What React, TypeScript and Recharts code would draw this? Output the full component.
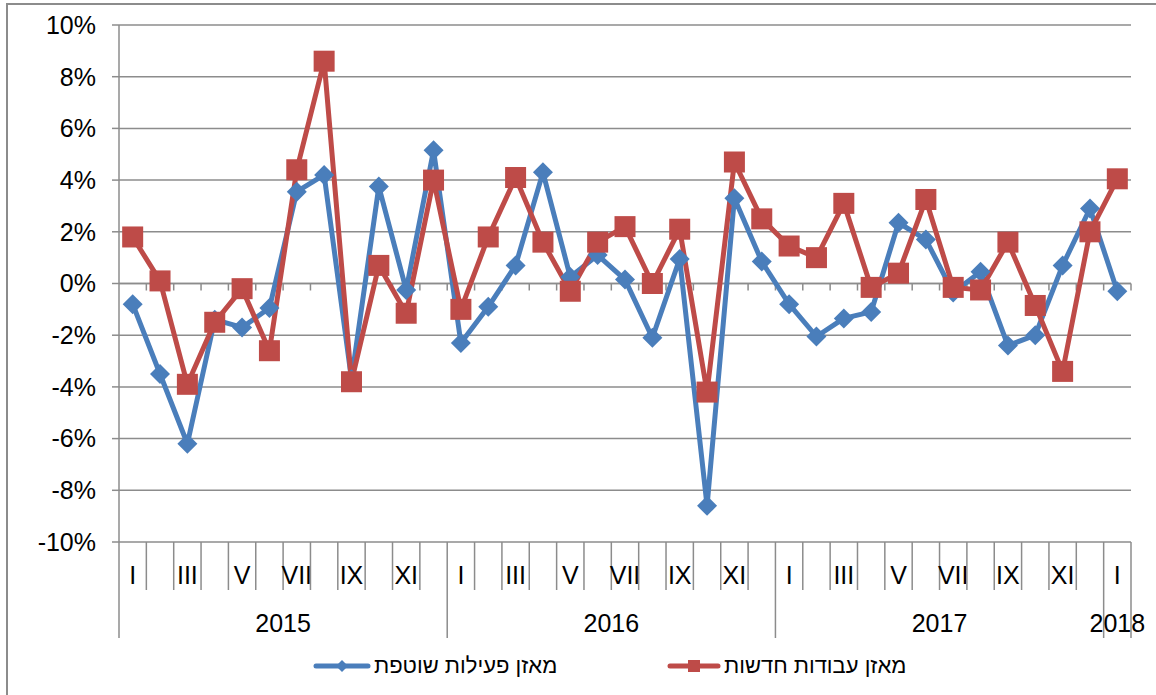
import { CartesianGrid, Line, LineChart, ReferenceLine, XAxis, YAxis } from "recharts";

// ---- data ----
const YEARS = ["2015", "2016", "2017", "2018"];
const MONTHS = ["I", "II", "III", "IV", "V", "VI", "VII", "VIII", "IX", "X", "XI", "XII"];

// מאזן פעילות שוטפת, Jan 2015 .. Jan 2018 (%)
const ACTIVITY = [
  -0.8, -3.5, -6.2, -1.4, -1.7, -0.95, 3.55, 4.2, -3.7, 3.75, -0.25, 5.15,
  -2.3, -0.9, 0.7, 4.3, 0.25, 1.1, 0.15, -2.1, 0.95, -8.6, 3.3, 0.85,
  -0.8, -2.05, -1.35, -1.1, 2.35, 1.7, -0.35, 0.45, -2.4, -2.0, 0.7, 2.9,
  -0.3,
];

// מאזן עבודות חדשות (%)
const NEW_JOBS = [
  1.8, 0.1, -3.9, -1.5, -0.2, -2.6, 4.4, 8.6, -3.8, 0.7, -1.15, 4.0,
  -1.0, 1.8, 4.1, 1.6, -0.3, 1.6, 2.2, 0.0, 2.1, -4.2, 4.7, 2.5,
  1.45, 1.0, 3.1, -0.15, 0.4, 3.25, -0.15, -0.25, 1.6, -0.85, -3.4, 2.0,
  4.05,
];

const SERIES_NAMES = ["מאזן פעילות שוטפת", "מאזן עבודות חדשות"];
const Y_TICKS = [-10, -8, -6, -4, -2, 0, 2, 4, 6, 8, 10];

const data = ACTIVITY.map((v, i) => ({
  key: `${YEARS[Math.floor(i / 12)]}-${(i % 12) + 1}`,
  month: MONTHS[i % 12],
  year: YEARS[Math.floor(i / 12)],
  activity: v,
  newJobs: NEW_JOBS[i],
}));

// ---- layout ----
const W = 1156;
const H = 695;
const MARGIN = { top: 25, right: 25, bottom: 57, left: 0 };
const Y_AXIS_W = 119;
const X_AXIS_H = 96;
const N = data.length;
const PLOT_W = W - MARGIN.left - MARGIN.right - Y_AXIS_W;
const BAND = PLOT_W / N;
const AXIS_FONT = 25;

const BLUE = "#4A7EBB";
const RED = "#BE4B48";
const GRID = "#8C8C8C";
const FONT = "'Liberation Sans', Arial, sans-serif";

/** 月份刻度:罗马数字 + 类目分隔线 + 年份标签 */
function MonthTick(props: any) {
  const { x, y, index } = props;
  const row = data[index];
  if (!row) return null;
  const left = x - BAND / 2;
  const right = x + BAND / 2;
  const yearStart = index % 12 === 0;
  const last = index === N - 1;
  const span = Math.min(12, N - index);
  return (
    <g>
      <line x1={left} x2={left} y1={y} y2={y + (yearStart ? X_AXIS_H : 48)} stroke={GRID} strokeWidth={1.5} />
      {last && <line x1={right} x2={right} y1={y} y2={y + X_AXIS_H} stroke={GRID} strokeWidth={1.5} />}
      {index % 2 === 0 && (
        <text x={x} y={y + 42} textAnchor="middle" fontSize={AXIS_FONT} fill="#000">
          {row.month}
        </text>
      )}
      {yearStart && (
        <text x={left + (span * BAND) / 2} y={y + 90} textAnchor="middle" fontSize={AXIS_FONT} fill="#000">
          {row.year}
        </text>
      )}
    </g>
  );
}

/** 0% 线:带类目边界小刻度 */
function ZeroAxis(props: any) {
  const { x1, y1, x2, y2 } = props;
  const step = (x2 - x1) / N;
  return (
    <g>
      <line x1={x1} y1={y1} x2={x2} y2={y2} stroke={GRID} strokeWidth={1.5} />
      {data.map((_, k) => (
        <line key={k} x1={x1 + (k + 1) * step} x2={x1 + (k + 1) * step} y1={y1} y2={y1 + 7} stroke={GRID} strokeWidth={1.5} />
      ))}
    </g>
  );
}

function renderDiamond(props: any) {
  const { cx, cy, index } = props;
  if (cx == null || cy == null) return <g key={`d-${index}`} />;
  const r = 10;
  return (
    <polygon
      key={`d-${index}`}
      points={`${cx},${cy - r} ${cx + r},${cy} ${cx},${cy + r} ${cx - r},${cy}`}
      fill={BLUE}
    />
  );
}

function renderSquare(props: any) {
  const { cx, cy, index } = props;
  if (cx == null || cy == null) return <g key={`s-${index}`} />;
  const r = 10.5;
  return <rect key={`s-${index}`} x={cx - r} y={cy - r} width={2 * r} height={2 * r} fill={RED} />;
}

function LegendItem({ left, width, color, marker, name }: { left: number; width: number; color: string; marker: "diamond" | "square"; name: string }) {
  const mid = width / 2;
  return (
    <div style={{ position: "absolute", left, top: 652, display: "flex", alignItems: "center", height: 28 }}>
      <svg width={width} height={26}>
        <line x1={3} x2={width - 3} y1={13} y2={13} stroke={color} strokeWidth={5} strokeLinecap="round" />
        {marker === "diamond" ? (
          <polygon points={`${mid},7 ${mid + 6},13 ${mid},19 ${mid - 6},13`} fill={color} />
        ) : (
          <rect x={mid - 6} y={7} width={12} height={12} fill={color} />
        )}
      </svg>
      <span dir="rtl" style={{ fontSize: 22, marginLeft: 3, color: "#000" }}>
        {name}
      </span>
    </div>
  );
}

export default function App() {
  return (
    <div
      style={{
        position: "absolute",
        left: 0,
        top: 0,
        width: W,
        height: H,
        overflow: "hidden",
        background: "#fff",
        fontFamily: FONT,
      }}
    >
      <div
        style={{
          position: "absolute",
          left: 6,
          top: 3,
          width: W + 20,
          height: H + 20,
          border: `2px solid ${GRID}`,
        }}
      />
      <div style={{ position: "absolute", left: 0, top: 0 }}>
        <LineChart width={W} height={H} data={data} margin={MARGIN}>
          <CartesianGrid horizontal vertical={false} stroke={GRID} strokeWidth={1.5} />
          <XAxis
            dataKey="key"
            type="category"
            interval={0}
            height={X_AXIS_H}
            padding={{ left: BAND / 2, right: BAND / 2 }}
            axisLine={false}
            tickLine={false}
            tickSize={0}
            tickMargin={0}
            tick={(p: any) => <MonthTick key={p.index} {...p} />}
          />
          <YAxis
            type="number"
            domain={[-10, 10]}
            ticks={Y_TICKS}
            interval={0}
            width={Y_AXIS_W}
            tickFormatter={(v: number) => `${v}%`}
            axisLine={{ stroke: GRID, strokeWidth: 1.5 }}
            tickLine={{ stroke: GRID, strokeWidth: 1.5 }}
            tickSize={7}
            tickMargin={16}
            tick={{ fill: "#000", fontSize: AXIS_FONT }}
          />
          <ReferenceLine y={0} shape={(p: any) => <ZeroAxis {...p} />} />
          <Line
            dataKey="activity"
            name={SERIES_NAMES[0]}
            type="linear"
            stroke={BLUE}
            strokeWidth={5}
            strokeLinejoin="round"
            dot={renderDiamond}
            activeDot={false}
            isAnimationActive={false}
          />
          <Line
            dataKey="newJobs"
            name={SERIES_NAMES[1]}
            type="linear"
            stroke={RED}
            strokeWidth={5}
            strokeLinejoin="round"
            dot={renderSquare}
            activeDot={false}
            isAnimationActive={false}
          />
        </LineChart>
      </div>
      <LegendItem left={313} width={58} color={BLUE} marker="diamond" name={SERIES_NAMES[0]} />
      <LegendItem left={667} width={54} color={RED} marker="square" name={SERIES_NAMES[1]} />
    </div>
  );
}
